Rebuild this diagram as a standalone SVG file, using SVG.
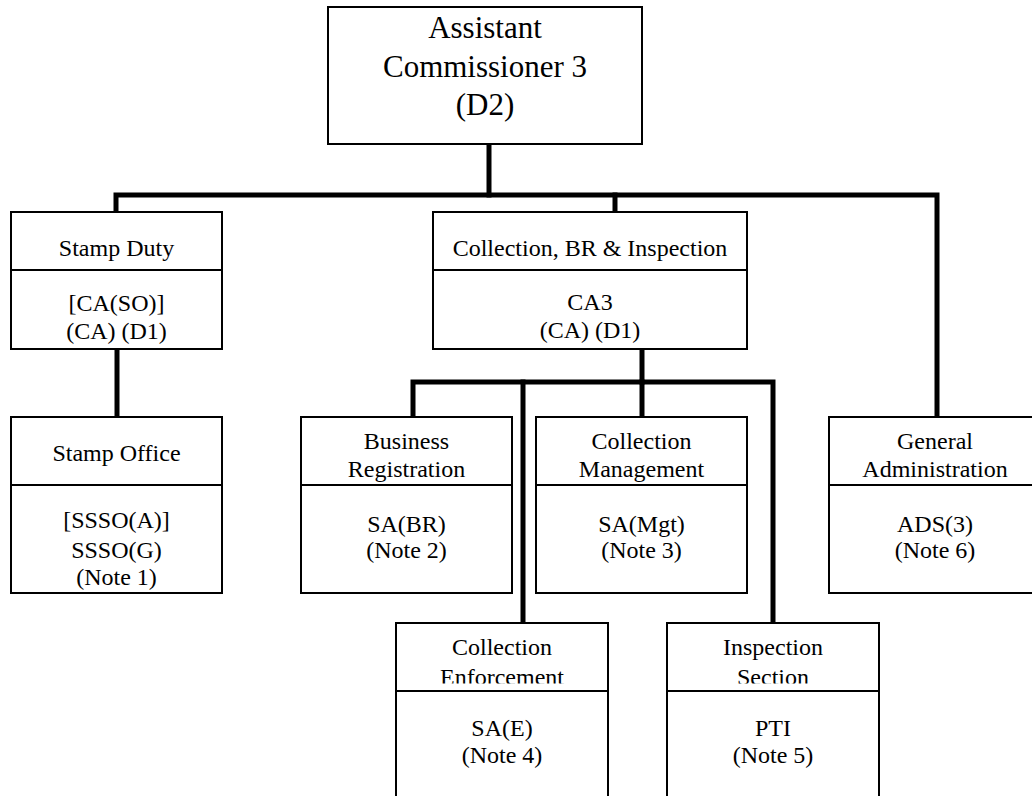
<svg xmlns="http://www.w3.org/2000/svg" width="1032" height="796" viewBox="0 0 1032 796">
<style>
.box{fill:#fff;stroke:#000;stroke-width:2}
.div{stroke:#000;stroke-width:2}
.con{fill:none;stroke:#000;stroke-width:5;stroke-linejoin:miter;stroke-linecap:square}
text{font-family:"Liberation Serif","Times New Roman",serif;font-size:24px;fill:#000;text-anchor:middle}
.big{font-size:31px}
</style>
<defs>
<clipPath id="clipCE"><rect x="396" y="623" width="212" height="60.5"/></clipPath>
<clipPath id="clipIS"><rect x="667" y="623" width="212" height="60.5"/></clipPath>
</defs>
<rect width="1032" height="796" fill="#fff"/>
<g id="connectors">
<path class="con" d="M489,144 V195"/>
<path class="con" d="M116,212 V195 H937 V417"/>
<path class="con" d="M615,195 V212"/>
<path class="con" d="M117,349 V417"/>
<path class="con" d="M642,349 V382"/>
<path class="con" d="M413,417 V382 H773 V623"/>
<path class="con" d="M642,382 V417"/>
<path class="con" d="M523,382 V623"/>
</g>
<g id="ac3">
<rect class="box" x="328" y="7" width="314" height="137"/>
<text class="big" x="485" y="38">Assistant</text>
<text class="big" x="485" y="77">Commissioner 3</text>
<text class="big" x="485" y="115">(D2)</text>
</g>
<g id="stamp-duty">
<rect class="box" x="11" y="212" width="211" height="137"/>
<line class="div" x1="11" y1="270" x2="222" y2="270"/>
<text x="116.5" y="256">Stamp Duty</text>
<text x="116.5" y="311">[CA(SO)]</text>
<text x="116.5" y="339">(CA) (D1)</text>
</g>
<g id="cbri">
<rect class="box" x="433" y="212" width="314" height="137"/>
<line class="div" x1="433" y1="270" x2="747" y2="270"/>
<text x="590" y="256">Collection, BR &amp; Inspection</text>
<text x="590" y="310">CA3</text>
<text x="590" y="338">(CA) (D1)</text>
</g>
<g id="stamp-office">
<rect class="box" x="11" y="417" width="211" height="176"/>
<line class="div" x1="11" y1="485" x2="222" y2="485"/>
<text x="116.5" y="461">Stamp Office</text>
<text x="116.5" y="528">[SSSO(A)]</text>
<text x="116.5" y="558">SSSO(G)</text>
<text x="116.5" y="585">(Note 1)</text>
</g>
<g id="business-registration">
<rect class="box" x="301" y="417" width="211" height="176"/>
<line class="div" x1="301" y1="485" x2="512" y2="485"/>
<text x="406.5" y="449">Business</text>
<text x="406.5" y="477">Registration</text>
<text x="406.5" y="532">SA(BR)</text>
<text x="406.5" y="558">(Note 2)</text>
</g>
<g id="collection-management">
<rect class="box" x="536" y="417" width="211" height="176"/>
<line class="div" x1="536" y1="485" x2="747" y2="485"/>
<text x="641.5" y="449">Collection</text>
<text x="641.5" y="477">Management</text>
<text x="641.5" y="532">SA(Mgt)</text>
<text x="641.5" y="558">(Note 3)</text>
</g>
<g id="general-administration">
<rect class="box" x="829" y="417" width="212" height="176"/>
<line class="div" x1="829" y1="485" x2="1041" y2="485"/>
<text x="935" y="449">General</text>
<text x="935" y="477">Administration</text>
<text x="935" y="532">ADS(3)</text>
<text x="935" y="558">(Note 6)</text>
</g>
<g id="collection-enforcement">
<rect class="box" x="396" y="623" width="212" height="190"/>
<line class="div" x1="396" y1="691" x2="608" y2="691"/>
<text x="502" y="655">Collection</text>
<text x="502" y="685" clip-path="url(#clipCE)">Enforcement</text>
<text x="502" y="736">SA(E)</text>
<text x="502" y="763">(Note 4)</text>
</g>
<g id="inspection-section">
<rect class="box" x="667" y="623" width="212" height="190"/>
<line class="div" x1="667" y1="691" x2="879" y2="691"/>
<text x="773" y="655">Inspection</text>
<text x="773" y="685" clip-path="url(#clipIS)">Section</text>
<text x="773" y="736">PTI</text>
<text x="773" y="763">(Note 5)</text>
</g>
</svg>
